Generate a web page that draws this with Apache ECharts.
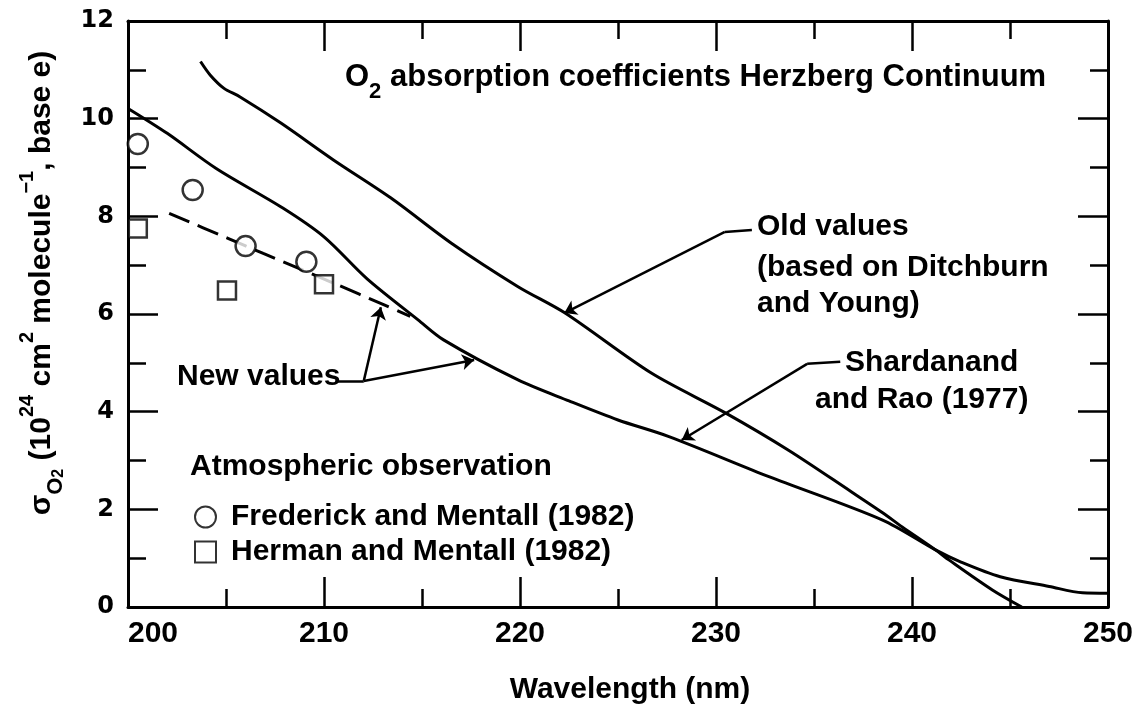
<!DOCTYPE html>
<html>
<head>
<meta charset="utf-8">
<script src="https://cdn.jsdelivr.net/npm/echarts@6/dist/echarts.min.js"></script>
<style>
  html, body { margin: 0; padding: 0; background: #fff; }
  #chart { width: 1137px; height: 711px; }
</style>
</head>
<body>
<div id="chart"></div>
<script>
// [wavelength nm, sigma]
const oldValues = [[203.7, 11.17], [204.2, 10.89], [204.9, 10.62], [205.7, 10.45], [207.8, 9.91], [210.5, 9.15],
  [213.4, 8.38], [216.5, 7.45], [219.9, 6.56], [222.3, 6.02], [226.7, 4.79], [230.5, 3.97], [233.7, 3.21],
  [236.9, 2.36], [238.5, 1.93], [239.5, 1.64], [241.2, 1.17], [241.9, 0.96], [244.1, 0.35], [245.6, 0.0]];
const shardanandRao = [[200.0, 10.21], [202.0, 9.70], [204.5, 8.98], [207.9, 8.17], [210.0, 7.58], [212.2, 6.72],
  [214.8, 5.88], [216.1, 5.47], [219.9, 4.65], [222.5, 4.22], [225.0, 3.83], [227.6, 3.49], [232.7, 2.67],
  [238.5, 1.78], [241.2, 1.17], [242.5, 0.92], [244.5, 0.62], [247.0, 0.42], [248.7, 0.29], [250.0, 0.28]];
const newValues = [[202.1, 8.06], [205.1, 7.55], [206.9, 7.24], [208.5, 6.97], [210.5, 6.63], [213.1, 6.18], [214.4, 5.95]];
const fredMentall = [[200.5, 9.48], [203.3, 8.54], [206.0, 7.39], [209.1, 7.07]];
const hermanMentall = [[200.5, 7.75], [205.05, 6.48], [210.0, 6.61]];

// leader lines of the curve labels (data units)
const leaderStubs = [
  [[231.83, 7.72], [230.45, 7.68]],
  [[236.34, 5.02], [234.65, 4.98]],
  [[210.59, 4.63], [212.03, 4.63]]
];
const leaderArrows = [
  [[230.45, 7.68], [222.26, 6.02]],
  [[234.65, 4.98], [228.25, 3.42]],
  [[212.03, 4.63], [212.9, 6.14]],
  [[212.03, 4.63], [217.66, 5.06]]
];

const FONT = "'Liberation Sans', Arial, Helvetica, sans-serif";
const black = '#000';

const chart = echarts.init(document.getElementById('chart'));

const tickCommon = {
  axisLine: { show: true, onZero: false, lineStyle: { color: black, width: 3 } },
  axisTick: { show: true, inside: true, length: 30, lineStyle: { color: black, width: 2.5 } },
  minorTick: { show: true, splitNumber: 2, length: 18, lineStyle: { color: black, width: 2.5 } },
  splitLine: { show: false },
  minorSplitLine: { show: false }
};

const txt = (x, y, text, extra) => ({
  type: 'text', x: x, y: y, silent: true,
  style: Object.assign({
    text: text, fill: black, font: 'bold 30px ' + FONT, verticalAlign: 'middle', align: 'left'
  }, extra || {})
});

chart.setOption({
  backgroundColor: '#fff',
  animation: false,
  grid: { left: 128, top: 21, width: 980, height: 586, outerBoundsMode: 'none' },
  xAxis: [
    Object.assign({
      type: 'value', min: 200, max: 250, interval: 10, position: 'bottom',
      axisLabel: { color: black, fontSize: 30, fontWeight: 'bold', fontFamily: FONT, margin: 12, alignMinLabel: 'left' }
    }, tickCommon),
    Object.assign({
      type: 'value', min: 200, max: 250, interval: 10, position: 'top',
      axisLabel: { show: false }
    }, tickCommon)
  ],
  yAxis: [
    Object.assign({
      type: 'value', min: 0, max: 12, interval: 2, position: 'left',
      axisLabel: { color: black, fontSize: 24, fontWeight: 'bold', fontFamily: "'DejaVu Sans', sans-serif", margin: 14 }
    }, tickCommon),
    Object.assign({
      type: 'value', min: 0, max: 12, interval: 2, position: 'right',
      axisLabel: { show: false }
    }, tickCommon)
  ],
  legend: {
    orient: 'vertical', left: 189, top: 497, itemWidth: 21, itemHeight: 21, itemGap: 5,
    textStyle: { color: black, fontSize: 30, fontWeight: 'bold', fontFamily: FONT, padding: [0, 0, 0, 10] },
    data: ['Frederick and Mentall (1982)', 'Herman and Mentall (1982)']
  },
  series: [
    {
      name: 'Old values', type: 'line', data: oldValues, showSymbol: false, smooth: 0.3,
      lineStyle: { color: black, width: 3 }, z: 3
    },
    {
      name: 'Shardanand and Rao (1977)', type: 'line', data: shardanandRao, showSymbol: false, smooth: 0.3,
      lineStyle: { color: black, width: 3 }, z: 3
    },
    {
      name: 'New values', type: 'line', data: newValues, showSymbol: false, smooth: 0.3,
      lineStyle: { color: black, width: 3, type: [22, 9] }, z: 3
    },
    {
      name: 'Frederick and Mentall (1982)', type: 'scatter', data: fredMentall, symbol: 'circle', symbolSize: 20,
      itemStyle: { color: '#fff', borderColor: black, borderWidth: 2.5 }, z: 6
    },
    {
      name: 'Herman and Mentall (1982)', type: 'scatter', data: hermanMentall, symbol: 'rect', symbolSize: 18,
      itemStyle: { color: '#fff', borderColor: black, borderWidth: 2.5 }, z: 6
    },
    {
      type: 'lines', coordinateSystem: 'cartesian2d', symbol: 'none',
      lineStyle: { color: black, width: 2.5, opacity: 1 },
      data: leaderStubs.map(c => ({ coords: c })), z: 4
    },
    {
      type: 'lines', coordinateSystem: 'cartesian2d', symbol: ['none', 'arrow'], symbolSize: 12,
      lineStyle: { color: black, width: 2.5, opacity: 1 },
      data: leaderArrows.map(c => ({ coords: c })), z: 4
    }
  ],
  graphic: [
    txt(345, 77, 'O{sub|2} absorption coefficients Herzberg Continuum', {
      font: 'bold 31px ' + FONT, lineHeight: 52,
      rich: { sub: { fontSize: 22, fontWeight: 'bold', fontFamily: FONT, lineHeight: 22, verticalAlign: 'bottom' } }
    }),
    txt(177, 377, 'New values'),
    txt(757, 227, 'Old values'),
    txt(757, 268, '(based on Ditchburn'),
    txt(757, 304, 'and Young)'),
    txt(845, 363, 'Shardanand'),
    txt(815, 400, 'and Rao (1977)'),
    txt(190, 467, 'Atmospheric observation'),
    txt(630, 690, 'Wavelength (nm)', { align: 'center' }),
    {
      type: 'text', x: 42, y: 283, rotation: Math.PI / 2, silent: true,
      style: {
        text: 'σ{sub|O}{ss|2} (10{sup|24} cm{sup|2} molecule{sup|−1}, base e)',
        fill: black, font: 'bold 30px ' + FONT, align: 'center', verticalAlign: 'middle', lineHeight: 50,
        rich: {
          sub: { fontSize: 22, fontWeight: 'bold', fontFamily: FONT, lineHeight: 30, verticalAlign: 'bottom' },
          ss: { fontSize: 16, fontWeight: 'bold', fontFamily: FONT, lineHeight: 16, verticalAlign: 'bottom' },
          sup: { fontSize: 20, fontWeight: 'bold', fontFamily: FONT, lineHeight: 22, verticalAlign: 'top' }
        }
      }
    }
  ]
});
</script>
</body>
</html>
